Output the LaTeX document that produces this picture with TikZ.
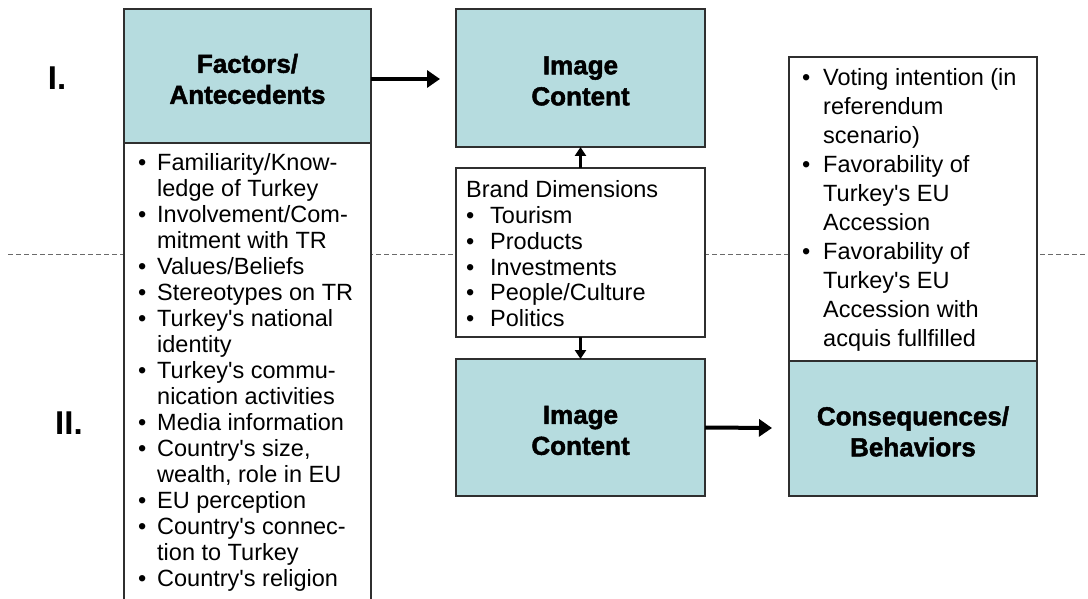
\documentclass[tikz,border=0pt]{standalone}
\usepackage{fontspec}
\setmainfont{Liberation Sans}
% plain family without TeX ligatures, so ' stays a straight apostrophe
\newfontfamily\plainfont{Liberation Sans}
\newfontfamily\headfont{Liberation Sans Bold}[FakeBold=1.8]
\newfontfamily\romfont{Liberation Sans Bold}
\usetikzlibrary{arrows.meta}

\definecolor{tealfill}{HTML}{B6DCDF}
\definecolor{boxline}{HTML}{2F2F2F}
\definecolor{sepline}{HTML}{6A6A6A}

% bullet cell of a given width
\newcommand{\bul}[1]{\makebox[#1][l]{\textbullet}}

\tikzset{
  panel/.style={draw=boxline, line width=1.3pt, inner sep=0pt, outer sep=0pt, anchor=north west},
  headbox/.style={panel, fill=tealfill},
  headtext/.style={inner sep=0pt, align=center, yshift=-3pt,
    font=\headfont\fontsize{26}{31}\selectfont},
  listbox/.style={panel, fill=white},
  listtext/.style={inner sep=0pt, anchor=base west, font=\plainfont\fontsize{23.5}{26}\selectfont},
  widelist/.style={inner sep=0pt, anchor=base west, font=\plainfont\fontsize{23.5}{29}\selectfont},
  levellabel/.style={inner sep=0pt, font=\romfont\fontsize{33}{36}\selectfont},
  sep/.style={draw=sepline, line width=1pt, dash pattern=on 5pt off 3pt},
  bigarrow/.style={line width=4pt, -{Triangle[length=13pt,width=17pt]}},
  smallarrow/.style={line width=2.5pt, -{Triangle[length=9pt,width=11pt]}}
}

\begin{document}
\begin{tikzpicture}[x=1pt,y=-1pt]
\useasboundingbox (0,0) rectangle (1088,599);
\clip (0,0) rectangle (1088,599);

% horizontal divider between levels I and II
\draw[sep] (8,254) -- (1088,254);

% level labels
\node[levellabel] (lvI) at (57,78) {I.};
\node[levellabel] (lvII) at (69,423) {II.};

% left column: factors and their list
\node[listbox, minimum width=247pt, minimum height=470pt] (facl) at (124,143) {};
\node[headbox, minimum width=247pt, minimum height=134pt] (fac) at (124,9) {};
\node[headtext] (factxt) at (fac.center) {Factors/\\Antecedents};
\node[listtext] (facitems) at (138,171) {\begin{tabular}[t]{@{}l@{}}
\bul{19pt}Familiarity/Know-\\
\hspace*{19pt}ledge of Turkey\\
\bul{19pt}Involvement/Com-\\
\hspace*{19pt}mitment with TR\\
\bul{19pt}Values/Beliefs\\
\bul{19pt}Stereotypes on TR\\
\bul{19pt}Turkey's national\\
\hspace*{19pt}identity\\
\bul{19pt}Turkey's commu-\\
\hspace*{19pt}nication activities\\
\bul{19pt}Media information\\
\bul{19pt}Country's size,\\
\hspace*{19pt}wealth, role in EU\\
\bul{19pt}EU perception\\
\bul{19pt}Country's connec-\\
\hspace*{19pt}tion to Turkey\\
\bul{19pt}Country's religion
\end{tabular}};

% middle column
\node[headbox, minimum width=249pt, minimum height=138pt] (img1) at (456,9) {};
\node[headtext] (img1txt) at (img1.center) {Image\\Content};
\node[listbox, minimum width=249pt, minimum height=169pt] (brand) at (456,168) {};
\node[listtext] (branditems) at (466,197) {\begin{tabular}[t]{@{}l@{}}
Brand Dimensions\\
\bul{24pt}Tourism\\
\bul{24pt}Products\\
\bul{24pt}Investments\\
\bul{24pt}People/Culture\\
\bul{24pt}Politics
\end{tabular}};
\node[headbox, minimum width=249pt, minimum height=137pt] (img2) at (456,359) {};
\node[headtext] (img2txt) at (img2.center) {Image\\Content};

% right column: consequences
\node[listbox, minimum width=248pt, minimum height=304pt] (consl) at (789,57) {};
\node[headbox, minimum width=248pt, minimum height=135pt] (cons) at (789,361) {};
\node[headtext] (constxt) at (cons.center) {Consequences/\\Behaviors};
\node[widelist] (consitems) at (802,86) {\begin{tabular}[t]{@{}l@{}}
\bul{21pt}Voting intention (in\\
\hspace*{21pt}referendum\\
\hspace*{21pt}scenario)\\
\bul{21pt}Favorability of\\
\hspace*{21pt}Turkey's EU\\
\hspace*{21pt}Accession\\
\bul{21pt}Favorability of\\
\hspace*{21pt}Turkey's EU\\
\hspace*{21pt}Accession with\\
\hspace*{21pt}acquis fullfilled
\end{tabular}};

% connectors
\coordinate (topend) at (440,79);
\coordinate (botend) at (772,428);
\draw[bigarrow] (topend -| fac.east) -- (topend);
\draw[smallarrow] (brand.north) -- (img1.south);
\draw[smallarrow] (brand.south) -- (img2.north);
\draw[bigarrow] (img2.east) -- (botend);
\end{tikzpicture}
\end{document}
